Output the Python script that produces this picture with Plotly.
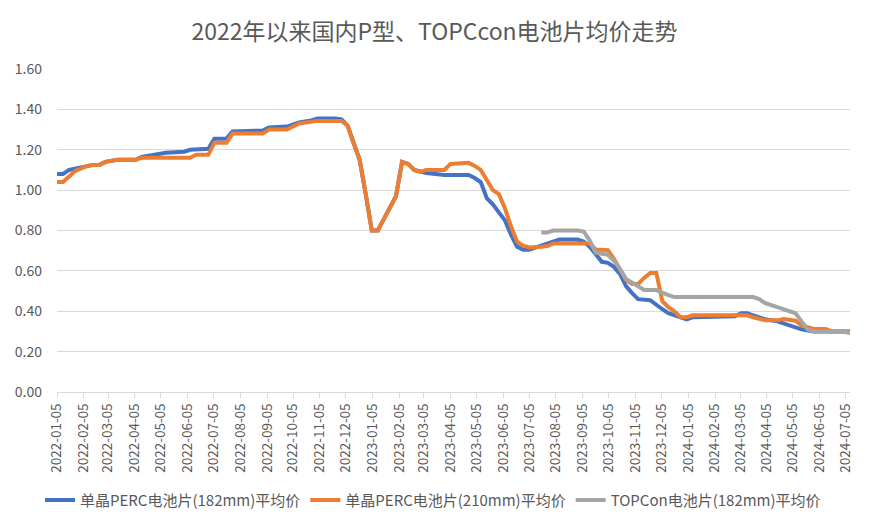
import plotly.graph_objects as go

title_text = "2022年以来国内P型、TOPCcon电池片均价走势"

perc182_name = "单晶PERC电池片(182mm)平均价"
perc182_dates = ["2022-01-05", "2022-01-12", "2022-01-19", "2022-02-02", "2022-02-16", "2022-02-23",
                 "2022-03-02", "2022-03-16", "2022-04-06", "2022-04-13", "2022-04-20", "2022-05-11",
                 "2022-06-01", "2022-06-08", "2022-06-29", "2022-07-06", "2022-07-20", "2022-07-27",
                 "2022-08-31", "2022-09-07", "2022-09-28", "2022-10-12", "2022-10-26", "2022-11-02",
                 "2022-11-23", "2022-11-30", "2022-12-07", "2022-12-14", "2022-12-21", "2022-12-28",
                 "2023-01-04", "2023-01-11", "2023-02-01", "2023-02-08", "2023-02-15", "2023-02-22",
                 "2023-03-08", "2023-03-29", "2023-04-26", "2023-05-03", "2023-05-10", "2023-05-17",
                 "2023-05-24", "2023-05-31", "2023-06-07", "2023-06-14", "2023-06-21", "2023-06-28",
                 "2023-07-05", "2023-07-12", "2023-07-19", "2023-07-26", "2023-08-02", "2023-08-09",
                 "2023-08-30", "2023-09-06", "2023-09-13", "2023-09-20", "2023-09-27", "2023-10-04",
                 "2023-10-11", "2023-10-18", "2023-10-25", "2023-11-01", "2023-11-08", "2023-11-22",
                 "2023-11-29", "2023-12-06", "2023-12-13", "2023-12-20", "2023-12-27", "2024-01-03",
                 "2024-01-10", "2024-02-28", "2024-03-06", "2024-03-13", "2024-03-20", "2024-03-27",
                 "2024-04-03", "2024-04-17", "2024-05-01", "2024-05-15", "2024-05-29", "2024-07-10"]
perc182_values = [1.08, 1.08, 1.10, 1.115, 1.125, 1.125,
                  1.14, 1.15, 1.15, 1.165, 1.17, 1.185,
                  1.19, 1.20, 1.205, 1.255, 1.255, 1.29,
                  1.295, 1.31, 1.315, 1.335, 1.345, 1.355,
                  1.355, 1.35, 1.32, 1.23, 1.15, 0.98,
                  0.80, 0.80, 0.97, 1.14, 1.13, 1.10,
                  1.085, 1.075, 1.075, 1.06, 1.04, 0.96,
                  0.93, 0.89, 0.85, 0.78, 0.72, 0.705,
                  0.705, 0.715, 0.725, 0.735, 0.745, 0.755,
                  0.755, 0.745, 0.72, 0.68, 0.645, 0.64,
                  0.62, 0.585, 0.525, 0.49, 0.46, 0.455,
                  0.43, 0.41, 0.39, 0.38, 0.365, 0.36,
                  0.37, 0.375, 0.39, 0.39, 0.38, 0.37,
                  0.36, 0.35, 0.33, 0.31, 0.30, 0.30]

perc210_name = "单晶PERC电池片(210mm)平均价"
perc210_dates = ["2022-01-05", "2022-01-12", "2022-01-26", "2022-02-09", "2022-02-16", "2022-02-23",
                 "2022-03-02", "2022-03-16", "2022-04-06", "2022-04-13", "2022-04-27", "2022-06-08",
                 "2022-06-15", "2022-06-29", "2022-07-06", "2022-07-20", "2022-07-27", "2022-08-31",
                 "2022-09-07", "2022-09-28", "2022-10-12", "2022-10-26", "2022-11-02", "2022-11-30",
                 "2022-12-07", "2022-12-14", "2022-12-21", "2022-12-28", "2023-01-04", "2023-01-11",
                 "2023-02-01", "2023-02-08", "2023-02-15", "2023-02-22", "2023-03-01", "2023-03-08",
                 "2023-03-29", "2023-04-05", "2023-04-26", "2023-05-03", "2023-05-10", "2023-05-17",
                 "2023-05-24", "2023-05-31", "2023-06-07", "2023-06-14", "2023-06-21", "2023-06-28",
                 "2023-07-05", "2023-07-19", "2023-07-26", "2023-08-02", "2023-09-13", "2023-09-20",
                 "2023-10-04", "2023-10-11", "2023-10-18", "2023-10-25", "2023-11-01", "2023-11-08",
                 "2023-11-15", "2023-11-22", "2023-11-29", "2023-12-06", "2023-12-13", "2023-12-20",
                 "2023-12-27", "2024-01-03", "2024-01-10", "2024-03-13", "2024-03-20", "2024-04-03",
                 "2024-04-17", "2024-04-24", "2024-05-08", "2024-05-15", "2024-05-29", "2024-06-12",
                 "2024-06-19", "2024-07-10"]
perc210_values = [1.04, 1.04, 1.095, 1.12, 1.125, 1.125,
                  1.14, 1.15, 1.15, 1.16, 1.16, 1.16,
                  1.175, 1.175, 1.235, 1.235, 1.28, 1.28,
                  1.30, 1.30, 1.33, 1.338, 1.343, 1.343,
                  1.32, 1.23, 1.15, 0.98, 0.80, 0.80,
                  0.97, 1.14, 1.13, 1.10, 1.09, 1.10,
                  1.10, 1.13, 1.135, 1.12, 1.10, 1.05,
                  1.00, 0.98, 0.91, 0.82, 0.745, 0.725,
                  0.716, 0.72, 0.723, 0.736, 0.736, 0.706,
                  0.703, 0.66, 0.61, 0.555, 0.535, 0.535,
                  0.565, 0.59, 0.59, 0.45, 0.42, 0.40,
                  0.37, 0.37, 0.38, 0.38, 0.37, 0.355,
                  0.355, 0.362, 0.353, 0.33, 0.312, 0.312,
                  0.30, 0.30]

topcon_name = "TOPCon电池片(182mm)平均价"
topcon_dates = ["2023-07-19", "2023-07-26", "2023-08-02", "2023-08-30", "2023-09-06", "2023-09-13",
                "2023-09-20", "2023-09-27", "2023-10-04", "2023-10-11", "2023-10-18", "2023-10-25",
                "2023-11-01", "2023-11-08", "2023-11-15", "2023-11-29", "2023-12-06", "2023-12-13",
                "2023-12-20", "2024-03-20", "2024-03-27", "2024-04-03", "2024-04-17", "2024-05-01",
                "2024-05-08", "2024-05-15", "2024-05-22", "2024-05-29", "2024-07-03", "2024-07-10"]
topcon_values = [0.79, 0.79, 0.80, 0.80, 0.795, 0.75,
                 0.69, 0.685, 0.68, 0.65, 0.61, 0.56,
                 0.54, 0.52, 0.505, 0.505, 0.49, 0.48,
                 0.47, 0.47, 0.46, 0.44, 0.42, 0.40,
                 0.39, 0.35, 0.31, 0.30, 0.30, 0.29]

series = [
    (perc182_name, perc182_dates, perc182_values, "#4472C4"),
    (perc210_name, perc210_dates, perc210_values, "#ED7D31"),
    (topcon_name, topcon_dates, topcon_values, "#A5A5A5"),
]

font_family = "Noto Sans CJK SC, Noto Sans, sans-serif"
text_color = "#595959"
grid_color = "#D9D9D9"

fig = go.Figure()
for name, xs, ys, color in series:
    fig.add_trace(go.Scatter(
        x=xs, y=ys, name=name, mode="lines",
        line=dict(color=color, width=4),
        hoverinfo="x+y+name",
    ))

fig.update_layout(
    width=869, height=527,
    paper_bgcolor="white", plot_bgcolor="white",
    margin=dict(l=57, r=19, t=69, b=135, autoexpand=False),
    font=dict(family=font_family, color=text_color, size=13),
    title=dict(text=title_text, x=0.5, xref="container", xanchor="center",
               y=1 - 32 / 527, yref="container", yanchor="middle",
               font=dict(size=23, color=text_color, family=font_family)),
    showlegend=True,
    legend=dict(orientation="h", x=(433 - 57) / 793, xanchor="center",
                y=-0.335, yanchor="middle", font=dict(size=15, color=text_color),
                tracegroupgap=0),
)

fig.update_xaxes(
    type="date",
    range=["2022-01-05", "2024-07-10"],
    tick0="2022-01-05", dtick="M1", tickformat="%Y-%m-%d",
    tickangle=-90, tickfont=dict(size=13.5, color=text_color),
    ticks="outside", ticklen=5, tickcolor=grid_color,
    showline=True, linecolor=grid_color, linewidth=1,
    showgrid=False, zeroline=False, automargin=False,
)
fig.update_yaxes(
    range=[0, 1.6], dtick=0.2, tickformat=".2f",
    tickfont=dict(size=14, color=text_color),
    showgrid=True, gridcolor=grid_color, gridwidth=1,
    zeroline=False, showline=False, ticks="", ticklabelstandoff=14,
    automargin=False,
)

fig.write_html("out.html")
